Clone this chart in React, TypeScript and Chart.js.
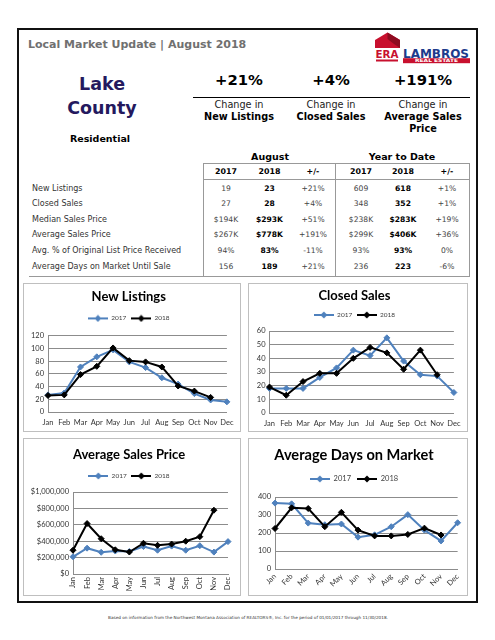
import React, { useEffect, useRef } from "react";
import { Chart, registerables } from "chart.js";

Chart.register(...registerables);

// ---------- data ----------
const months = ["Jan", "Feb", "Mar", "Apr", "May", "Jun", "Jul", "Aug", "Sep", "Oct", "Nov", "Dec"];

const newListings2017 = [27, 30, 71, 87, 98, 79, 70, 54, 44, 29, 19, 16];
const newListings2018 = [26, 27, 59, 72, 101, 81, 79, 71, 41, 33, 23];

const closedSales2017 = [18, 18, 18, 26, 33, 46, 42, 55, 38, 28, 27, 15];
const closedSales2018 = [19, 13, 23, 29, 29, 40, 48, 44, 32, 46, 28];

const avgPrice2017 = [210000, 315000, 265000, 280000, 275000, 335000, 290000, 340000, 290000, 345000, 267000, 395000];
const avgPrice2018 = [290000, 615000, 430000, 295000, 268000, 375000, 350000, 365000, 400000, 455000, 778000];

const avgDays2017 = [366, 362, 255, 246, 250, 177, 190, 235, 302, 216, 156, 257];
const avgDays2018 = [225, 340, 336, 235, 315, 216, 184, 184, 192, 227, 189];

const headlineValues = ["+21%", "+4%", "+191%"];
const headlineLabels = [["Change in", "New Listings"], ["Change in", "Closed Sales"], ["Change in", "Average Sales", "Price"]];

const tableRows = [
  "New Listings",
  "Closed Sales",
  "Median Sales Price",
  "Average Sales Price",
  "Avg. % of Original List Price Received",
  "Average Days on Market Until Sale",
];
const aug2017 = ["19", "27", "$194K", "$267K", "94%", "156"];
const aug2018 = ["23", "28", "$293K", "$778K", "83%", "189"];
const augChange = ["+21%", "+4%", "+51%", "+191%", "-11%", "+21%"];
const ytd2017 = ["609", "348", "$238K", "$299K", "93%", "236"];
const ytd2018 = ["618", "352", "$283K", "$406K", "93%", "223"];
const ytdChange = ["+1%", "+1%", "+19%", "+36%", "0%", "-6%"];
const tableHeaders = ["2017", "2018", "+/-", "2017", "2018", "+/-"];

// ---------- styles ----------
const VERD = '"DejaVu Sans", Verdana, sans-serif';
const CAL = 'Lato, Calibri, sans-serif';
const BLUE = "#4F81BD";
const GRID = "#8c8c8c";

type Spec = {
  title: string;
  titleSize: number;
  d17: number[];
  d18: number[];
  max: number;
  step: number;
  money?: boolean;
  rot: number;
  box: [number, number, number, number];
  yw: number;
  xh: number;
  padRight: number;
  tT: number;
  tB: number;
  lp: number;
  lf: number;
  tf: number;
  xp: number;
  gap: number;
};

function legendIcon(color: string) {
  const c = document.createElement("canvas");
  c.width = 20;
  c.height = 8;
  const ctx = c.getContext("2d")!;
  ctx.strokeStyle = color;
  ctx.lineWidth = 2;
  ctx.beginPath();
  ctx.moveTo(0, 4);
  ctx.lineTo(20, 4);
  ctx.stroke();
  ctx.fillStyle = color;
  ctx.beginPath();
  ctx.moveTo(10, 0.5);
  ctx.lineTo(13.5, 4);
  ctx.lineTo(10, 7.5);
  ctx.lineTo(6.5, 4);
  ctx.closePath();
  ctx.fill();
  return c;
}

function LineChart({ s }: { s: Spec }) {
  const ref = useRef<HTMLCanvasElement>(null);
  useEffect(() => {
    const icons = [legendIcon(BLUE), legendIcon("#000")];
    const tickFont = { family: CAL, size: s.tf };
    const chart = new Chart(ref.current as HTMLCanvasElement, {
      type: "line",
      data: {
        labels: months,
        datasets: [
          {
            label: "2017",
            data: s.d17,
            borderColor: BLUE,
            backgroundColor: BLUE,
            borderWidth: 2,
            pointStyle: "rectRot",
            pointRadius: 3,
            pointBorderWidth: 1,
            tension: 0,
            order: 1,
          },
          {
            label: "2018",
            data: s.d18,
            borderColor: "#000",
            backgroundColor: "#000",
            borderWidth: 2,
            pointStyle: "rectRot",
            pointRadius: 3,
            pointBorderWidth: 1,
            tension: 0,
            order: 0,
          },
        ],
      },
      options: {
        responsive: false,
        animation: false,
        devicePixelRatio: 1,
        layout: { padding: { top: 0, right: s.padRight, bottom: 0, left: 0 } },
        plugins: {
          title: {
            display: true,
            text: s.title,
            color: "#000",
            font: { family: CAL, size: s.titleSize, weight: "bold" },
            padding: { top: s.tT, bottom: s.tB },
          },
          // empty spacer between the legend and the plot area
          subtitle: {
            display: true,
            text: " ",
            weight: 500,
            font: { family: CAL, size: 1 },
            padding: { top: 0, bottom: Math.max(0, s.gap - 1.2) },
          },
          legend: {
            display: true,
            position: "top",
            labels: {
              usePointStyle: true,
              pointStyleWidth: 20,
              padding: s.lp,
              color: "#404040",
              font: { family: CAL, size: s.lf },
              generateLabels: (c: any) => {
                const items = (Chart.defaults.plugins.legend.labels as any).generateLabels(c);
                items.sort((a: any, b: any) => a.datasetIndex - b.datasetIndex);
                items.forEach((it: any) => {
                  it.pointStyle = icons[it.datasetIndex];
                });
                return items;
              },
            },
          },
          tooltip: { enabled: false },
        },
        scales: {
          x: {
            grid: { display: false, drawTicks: false },
            border: { display: true, color: GRID },
            ticks: {
              autoSkip: false,
              maxRotation: s.rot,
              minRotation: s.rot,
              padding: s.xp,
              color: "#333",
              font: tickFont,
            },
            afterFit: (sc: any) => {
              sc.height = s.xh;
            },
          },
          y: {
            min: 0,
            max: s.max,
            grid: { color: GRID, drawTicks: false },
            border: { display: true, color: GRID },
            ticks: {
              stepSize: s.step,
              padding: 4,
              color: "#333",
              font: tickFont,
              callback: (v: any) => (s.money ? "$" + Number(v).toLocaleString("en-US") : String(v)),
            },
            afterFit: (sc: any) => {
              sc.width = s.yw;
            },
          },
        },
      } as any,
    });
    return () => chart.destroy();
  }, []);
  const [l, t, w, h] = s.box;
  return (
    <div
      style={{
        position: "absolute",
        left: l,
        top: t,
        width: w,
        height: h,
        border: "1px solid #bfbfbf",
        boxSizing: "border-box",
        background: "#fff",
      }}
    >
      <canvas ref={ref} width={w - 2} height={h - 2} style={{ display: "block" }} />
    </div>
  );
}

const specs: Spec[] = [
  {
    title: "New Listings", titleSize: 13, d17: newListings2017, d18: newListings2018, max: 120, step: 20, rot: 0,
    box: [23, 283, 218, 149], yw: 24, xh: 19, padRight: 6.5, tT: 5.2, tB: 5.35, lp: 5, lf: 6.5, tf: 7.5, xp: 6.5, gap: 4.25,
  },
  {
    title: "Closed Sales", titleSize: 13, d17: closedSales2017, d18: closedSales2018, max: 60, step: 10, rot: 0,
    box: [248, 283, 220, 149], yw: 20.5, xh: 18, padRight: 7, tT: 4.2, tB: 3.35, lp: 4.6, lf: 6.5, tf: 7.5, xp: 6.5, gap: 2.75,
  },
  {
    title: "Average Sales Price", titleSize: 13, d17: avgPrice2017, d18: avgPrice2018, max: 1000000, step: 200000, money: true, rot: 90,
    box: [23, 438, 218, 158], yw: 49, xh: 21, padRight: 6, tT: 8.2, tB: 5.35, lp: 4.6, lf: 6.5, tf: 7.5, xp: 3, gap: 2.75,
  },
  {
    title: "Average Days on Market", titleSize: 14.6, d17: avgDays2017, d18: avgDays2018, max: 400, step: 100, rot: 45,
    box: [248, 438, 220, 158], yw: 26, xh: 26, padRight: 8, tT: 7.24, tB: 5.49, lp: 6, lf: 7.5, tf: 7.5, xp: 3, gap: 4.25,
  },
];

type TxtProps = {
  x: number;
  y: number;
  size: number;
  bold?: boolean;
  color?: string;
  align?: "center" | "left";
  w?: number;
  children: React.ReactNode;
};

function Txt({ x, y, size, bold = false, color = "#000", align = "center", w = 200, children }: TxtProps) {
  const lh = Math.round(size * 1.4);
  return (
    <div
      style={{
        position: "absolute",
        left: align === "center" ? x - w / 2 : x,
        top: y - lh / 2,
        width: w,
        height: lh,
        lineHeight: lh + "px",
        fontSize: size,
        fontWeight: bold ? 700 : 400,
        color,
        textAlign: align,
        whiteSpace: "nowrap",
        fontFamily: VERD,
      }}
    >
      {children}
    </div>
  );
}

function Logo() {
  return (
    <svg
      width={100}
      height={34}
      viewBox="0 0 100 34"
      style={{ position: "absolute", left: 373, top: 31 }}
    >
      <polygon points="2,17 2,9 14.5,1.5 27,9 27,17" fill="#c8102e" />
      <polygon points="14.5,1.5 27,9 27,17 21,13 14.5,8" fill="#8e0b20" />
      <text x={2.5} y={26.5} fontFamily={VERD} fontWeight={700} fontSize={10} fill="#c8102e" textLength={23} lengthAdjust="spacingAndGlyphs">
        ERA
      </text>
      <rect x={3} y={28.5} width={22} height={2} fill="#c8102e" />
      <text x={30} y={26.5} fontFamily={VERD} fontWeight={700} fontSize={12} fill="#1d3b8c" textLength={66} lengthAdjust="spacingAndGlyphs">
        LAMBROS
      </text>
      <rect x={30} y={27.2} width={67} height={5} fill="#c8102e" />
      <text x={42} y={31.4} fontFamily={VERD} fontWeight={700} fontSize={4.6} fill="#fff" textLength={43} lengthAdjust="spacingAndGlyphs">
        REAL ESTATE
      </text>
    </svg>
  );
}

export default function App() {
  const headX = [239, 331, 423];
  const colX = [226, 269.5, 313, 361, 403, 447];
  const rowY0 = 188;
  const rowStep = 15.6;
  const cols = [aug2017, aug2018, augChange, ytd2017, ytd2018, ytdChange];
  return (
    <div
      style={{
        position: "absolute",
        left: 0,
        top: 0,
        width: 495,
        height: 640,
        background: "#fff",
        overflow: "hidden",
        fontFamily: VERD,
      }}
    >
      {/* outer frame */}
      <div
        style={{
          position: "absolute",
          left: 17,
          top: 28,
          width: 461,
          height: 575,
          border: "2px solid #111",
          boxSizing: "border-box",
        }}
      />
      <Txt x={28} y={44} size={11} bold color="#707070" align="left" w={260}>
        Local Market Update | August 2018
      </Txt>
      <Logo />

      <Txt x={102} y={84} size={17.5} bold color="#24195e">Lake</Txt>
      <Txt x={102} y={108} size={17.5} bold color="#24195e">County</Txt>
      <Txt x={100} y={138} size={9.5} bold>Residential</Txt>

      {headlineValues.map((v, i) => (
        <Txt key={"hv" + i} x={headX[i]} y={79} size={14.8} bold>{v}</Txt>
      ))}
      <div style={{ position: "absolute", left: 193, top: 97, width: 277, height: 1, background: "#000" }} />
      {headlineLabels.map((lines, i) =>
        lines.map((ln, j) => (
          <Txt key={"hl" + i + "_" + j} x={headX[i]} y={105 + j * 12} size={9.7} bold={j > 0} color={j > 0 ? "#000" : "#222"}>
            {ln}
          </Txt>
        ))
      )}

      <Txt x={270} y={156} size={9.5} bold>August</Txt>
      <Txt x={402} y={156} size={9.5} bold>Year to Date</Txt>

      {/* table lines */}
      <div style={{ position: "absolute", left: 203, top: 163, width: 267, height: 1, background: "#999" }} />
      <div style={{ position: "absolute", left: 203, top: 179, width: 267, height: 1, background: "#999" }} />
      <div style={{ position: "absolute", left: 29, top: 276, width: 441, height: 1, background: "#999" }} />
      <div style={{ position: "absolute", left: 203, top: 163, width: 1, height: 114, background: "#999" }} />
      <div style={{ position: "absolute", left: 335, top: 163, width: 1, height: 114, background: "#999" }} />
      <div style={{ position: "absolute", left: 469, top: 163, width: 1, height: 114, background: "#999" }} />

      {tableHeaders.map((h, i) => (
        <Txt key={"th" + i} x={colX[i]} y={171.5} size={7.9} bold w={50}>{h}</Txt>
      ))}
      {tableRows.map((r, ri) => (
        <React.Fragment key={"r" + ri}>
          <Txt x={32} y={rowY0 + ri * rowStep} size={8} color="#333" align="left" w={170}>{r}</Txt>
          {cols.map((col, ci) => (
            <Txt
              key={"c" + ci}
              x={colX[ci]}
              y={rowY0 + ri * rowStep}
              size={7.6}
              bold={ci === 1 || ci === 4}
              color={ci === 1 || ci === 4 ? "#000" : "#444"}
              w={50}
            >
              {col[ri]}
            </Txt>
          ))}
        </React.Fragment>
      ))}

      {specs.map((s, i) => (
        <LineChart key={"ch" + i} s={s} />
      ))}

      <Txt x={248} y={618} size={4.2} color="#333" w={400}>
        Based on information from the Northwest Montana Association of REALTORS®, Inc. for the period of 01/01/2017 through 11/30/2018.
      </Txt>
    </div>
  );
}
